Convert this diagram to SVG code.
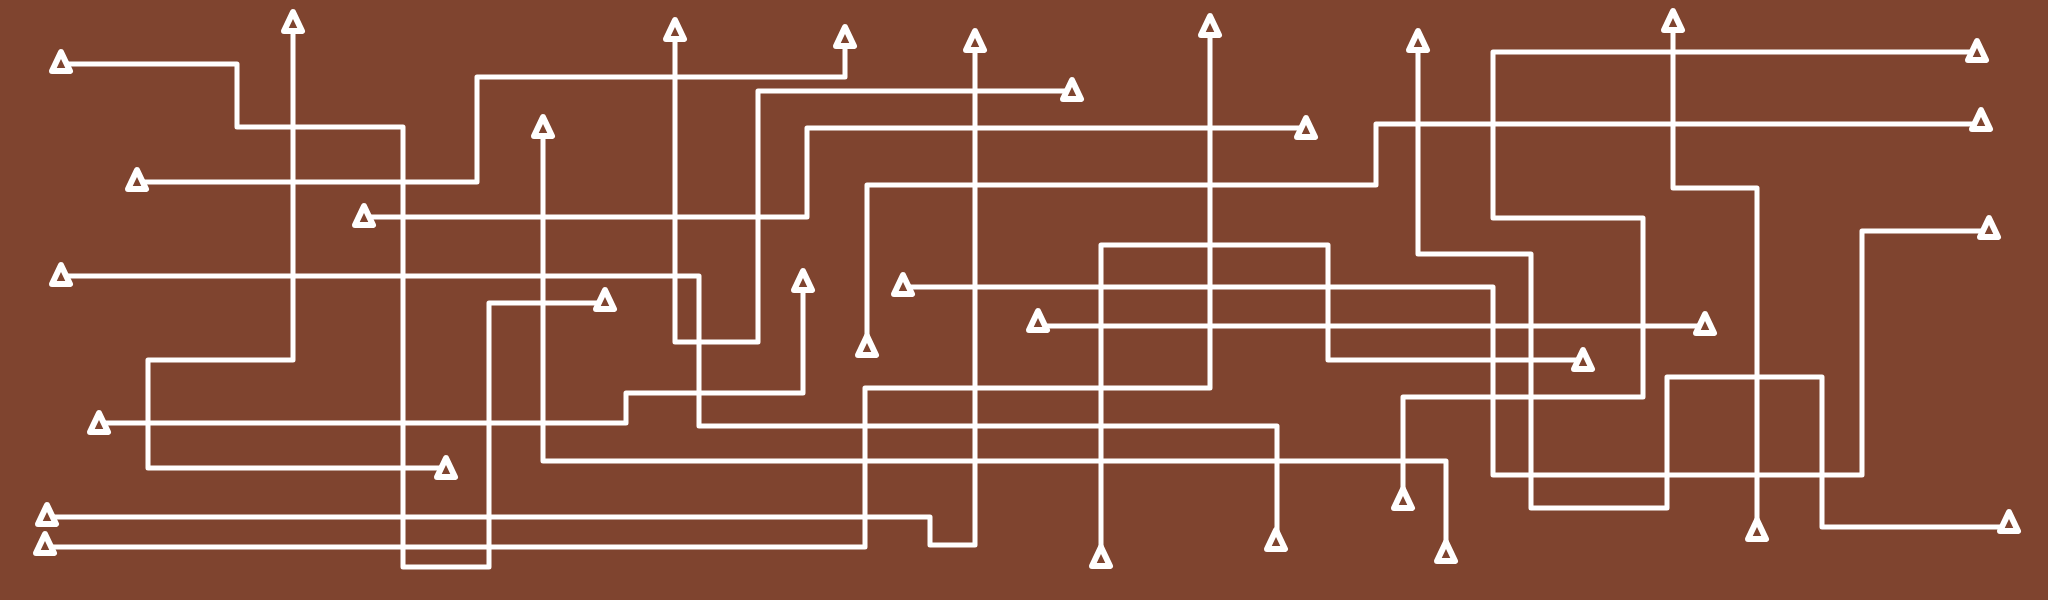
<svg xmlns="http://www.w3.org/2000/svg" xmlns:xlink="http://www.w3.org/1999/xlink" width="2048" height="600" viewBox="0 0 2048 600">
<style>
.c{fill:none;stroke:#fff;stroke-width:5;stroke-linejoin:round;stroke-linecap:round}
.t{fill:#7f442f;stroke:#fff;stroke-width:6;stroke-linejoin:round}
</style>
<defs>
<path id="tri" d="M0,-10 L9,9 L-9,9 Z"/>
</defs>
<rect width="2048" height="600" fill="#7f442f"/>
<g id="connectors">
<polyline id="p1" class="c" points="61,64 237,64 237,127 403,127 403,567 489,567 489,303 605,303"/>
<polyline id="p2" class="c" points="293,22 293,360 148,360 148,468 446,468"/>
<polyline id="p3" class="c" points="137,182 477,182 477,77 845,77 845,37"/>
<polyline id="p4" class="c" points="364,217 807,217 807,128 1306,128"/>
<polyline id="p5" class="c" points="61,276 699,276 699,426 1277,426 1277,540"/>
<polyline id="p6" class="c" points="99,423 626,423 626,393 803,393 803,281"/>
<polyline id="p7" class="c" points="47,517 930,517 930,545 975,545 975,41"/>
<polyline id="p8" class="c" points="45,547 865,547 865,388 1210,388 1210,26"/>
<polyline id="p9" class="c" points="543,127 543,461 1446,461 1446,552"/>
<polyline id="p10" class="c" points="675,30 675,342 758,342 758,91 1072,91"/>
<polyline id="p11" class="c" points="867,346 867,185 1376,185 1376,124 1981,124"/>
<polyline id="p12" class="c" points="903,287 1493,287 1493,475 1862,475 1862,231 1989,231"/>
<polyline id="p13" class="c" points="1038,326 1705,326"/>
<polyline id="p14" class="c" points="1101,557 1101,245 1328,245 1328,360 1583,360"/>
<polyline id="p15" class="c" points="1418,41 1418,254 1531,254 1531,508 1667,508 1667,377 1822,377 1822,527 2009,527"/>
<polyline id="p16" class="c" points="1977,52 1493,52 1493,218 1643,218 1643,397 1403,397 1403,499"/>
<polyline id="p17" class="c" points="1673,21 1673,188 1757,188 1757,530"/>
</g>
<g id="n1a"><use xlink:href="#tri" class="t" x="61" y="62"/></g>
<g id="n1b"><use xlink:href="#tri" class="t" x="605" y="300"/></g>
<g id="n2a"><use xlink:href="#tri" class="t" x="293" y="22"/></g>
<g id="n2b"><use xlink:href="#tri" class="t" x="446" y="468"/></g>
<g id="n3a"><use xlink:href="#tri" class="t" x="137" y="180"/></g>
<g id="n3b"><use xlink:href="#tri" class="t" x="845" y="37"/></g>
<g id="n4a"><use xlink:href="#tri" class="t" x="364" y="216"/></g>
<g id="n4b"><use xlink:href="#tri" class="t" x="1306" y="128"/></g>
<g id="n5a"><use xlink:href="#tri" class="t" x="61" y="275"/></g>
<g id="n5b"><use xlink:href="#tri" class="t" x="1276" y="540"/></g>
<g id="n6a"><use xlink:href="#tri" class="t" x="99" y="423"/></g>
<g id="n6b"><use xlink:href="#tri" class="t" x="803" y="281"/></g>
<g id="n7a"><use xlink:href="#tri" class="t" x="47" y="515"/></g>
<g id="n7b"><use xlink:href="#tri" class="t" x="975" y="41"/></g>
<g id="n8a"><use xlink:href="#tri" class="t" x="45" y="544"/></g>
<g id="n8b"><use xlink:href="#tri" class="t" x="1210" y="26"/></g>
<g id="n9a"><use xlink:href="#tri" class="t" x="543" y="127"/></g>
<g id="n9b"><use xlink:href="#tri" class="t" x="1446" y="552"/></g>
<g id="n10a"><use xlink:href="#tri" class="t" x="675" y="30"/></g>
<g id="n10b"><use xlink:href="#tri" class="t" x="1072" y="90"/></g>
<g id="n11a"><use xlink:href="#tri" class="t" x="867" y="346"/></g>
<g id="n11b"><use xlink:href="#tri" class="t" x="1981" y="120"/></g>
<g id="n12a"><use xlink:href="#tri" class="t" x="903" y="285"/></g>
<g id="n12b"><use xlink:href="#tri" class="t" x="1989" y="228"/></g>
<g id="n13a"><use xlink:href="#tri" class="t" x="1038" y="321"/></g>
<g id="n13b"><use xlink:href="#tri" class="t" x="1705" y="324"/></g>
<g id="n14a"><use xlink:href="#tri" class="t" x="1101" y="557"/></g>
<g id="n14b"><use xlink:href="#tri" class="t" x="1583" y="360"/></g>
<g id="n15a"><use xlink:href="#tri" class="t" x="1418" y="41"/></g>
<g id="n15b"><use xlink:href="#tri" class="t" x="2009" y="522"/></g>
<g id="n16a"><use xlink:href="#tri" class="t" x="1977" y="51"/></g>
<g id="n16b"><use xlink:href="#tri" class="t" x="1403" y="499"/></g>
<g id="n17a"><use xlink:href="#tri" class="t" x="1673" y="21"/></g>
<g id="n17b"><use xlink:href="#tri" class="t" x="1757" y="530"/></g>
</svg>
